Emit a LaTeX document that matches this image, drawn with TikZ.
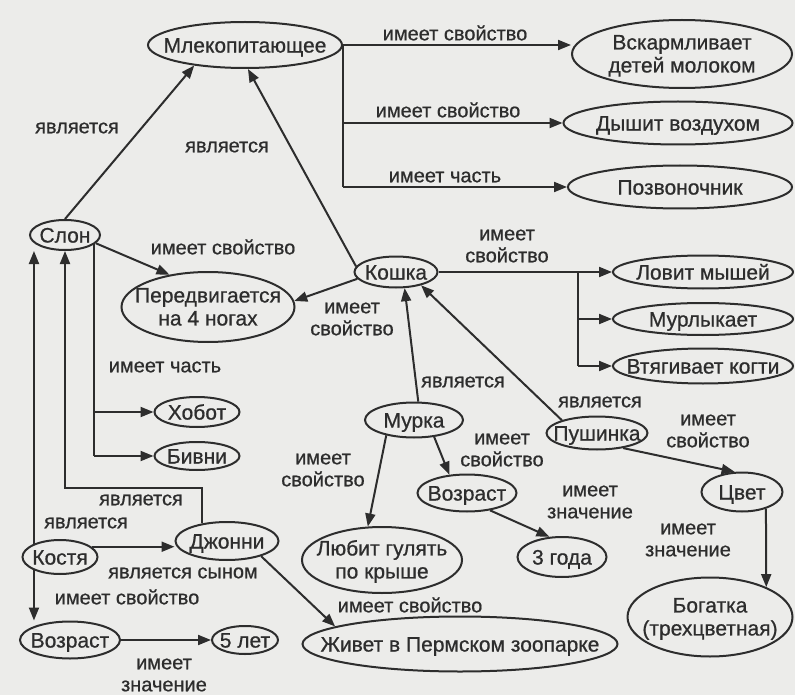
\documentclass[tikz,border=0pt]{standalone}
\usepackage{fontspec}
\setmainfont[FakeBold=0.7]{Liberation Sans}
\usetikzlibrary{shapes.geometric,arrows.meta}
\definecolor{bg}{RGB}{236,236,234}
\definecolor{ink}{RGB}{45,45,45}
\newcommand\one[1]{\makebox[0pt]{\raisebox{-0.36em}[0pt][0pt]{#1}}}
\newcommand\two[2]{\makebox[0pt]{\raisebox{-0.36em}[0pt][0pt]{\begin{tabular}[c]{@{}c@{}}#1\\#2\end{tabular}}}}
\tikzset{
 ell/.style={draw=ink, line width=2pt, ellipse, inner sep=0pt, text=ink, font=\fontsize{21}{23}\selectfont},
 lbl/.style={text=ink, font=\fontsize{20}{22}\selectfont, align=center, inner sep=0pt},
 con/.style={draw=ink, line width=2pt},
 arr/.style={con, -{Triangle[length=13pt,width=10pt]}},
}
\begin{document}
\begin{tikzpicture}[x=1pt,y=-1pt]
\path[fill=bg] (0,0) rectangle (795,695);
\useasboundingbox (0,0) rectangle (795,695);
% nodes
\node[ell, minimum width=194pt, minimum height=46pt] (mlek) at (245,45) {\one{Млекопитающее}};
\node[ell, minimum width=220pt, minimum height=68pt] (vskarm) at (682,54) {\two{Вскармливает}{детей молоком}};
\node[ell, minimum width=229pt, minimum height=43pt] (dyshit) at (678,123) {\one{Дышит воздухом}};
\node[ell, minimum width=224pt, minimum height=43pt] (pozv) at (680,187) {\one{Позвоночник}};
\node[ell, minimum width=70pt, minimum height=30pt] (slon) at (65,235) {\one{Слон}};
\node[ell, minimum width=173pt, minimum height=70pt] (pered) at (208,307) {\two{Передвигается}{на 4 ногах}};
\node[ell, minimum width=83pt, minimum height=31pt] (koshka) at (396,272) {\one{Кошка}};
\node[ell, minimum width=180pt, minimum height=33pt] (lovit) at (703,272) {\one{Ловит мышей}};
\node[ell, minimum width=180pt, minimum height=32pt] (murl) at (703,319) {\one{Мурлыкает}};
\node[ell, minimum width=180pt, minimum height=35pt] (vtyag) at (703,366) {\one{Втягивает когти}};
\node[ell, minimum width=85pt, minimum height=30pt] (hobot) at (197,412) {\one{Хобот}};
\node[ell, minimum width=85pt, minimum height=28pt] (bivni) at (197,456) {\one{Бивни}};
\node[ell, minimum width=98pt, minimum height=35pt] (murka) at (414,420) {\one{Мурка}};
\node[ell, minimum width=101pt, minimum height=33pt] (push) at (597,433) {\one{Пушинка}};
\node[ell, minimum width=81pt, minimum height=39pt] (cvet) at (742,492) {\one{Цвет}};
\node[ell, minimum width=165pt, minimum height=79pt] (bogat) at (710,617) {\two{Богатка}{(трехцветная)}};
\node[ell, minimum width=99pt, minimum height=37pt] (voz2) at (467,493) {\one{Возраст}};
\node[ell, minimum width=89pt, minimum height=40pt] (tri) at (562,557) {\one{3 года}};
\node[ell, minimum width=160pt, minimum height=66pt] (lyubit) at (382,560) {\two{Любит гулять}{по крыше}};
\node[ell, minimum width=315pt, minimum height=55pt] (zhivet) at (460,644) {\one{Живет в Пермском зоопарке}};
\node[ell, minimum width=103pt, minimum height=38pt] (dzh) at (227,541) {\one{Джонни}};
\node[ell, minimum width=75pt, minimum height=34pt] (kostya) at (60,557) {\one{Костя}};
\node[ell, minimum width=100pt, minimum height=37pt] (voz1) at (70,640) {\one{Возраст}};
\node[ell, minimum width=66pt, minimum height=28pt] (pyat) at (245,640) {\one{5 лет}};
% connectors
\draw[arr] (slon.north) -- (mlek.202.6);
\draw[arr] (koshka.172) -- (mlek.277);
\draw[arr] (mlek.east) -- (mlek.east -| vskarm.west);
\draw[con] (mlek.east) -- (mlek.east |- pozv.west);
\draw[arr] (mlek.east |- dyshit.west) -- (dyshit.west);
\draw[arr] (mlek.east |- pozv.west) -- (pozv.west);
\draw[arr] (slon.-15) -- (pered.140);
\draw[arr] (koshka.190) -- (pered.4);
\coordinate (kj) at (578,272);
\draw[arr] (koshka.east) -- (lovit.west);
\draw[con] (kj) -- (kj |- vtyag.west);
\draw[arr] (kj |- murl.west) -- (murl.west);
\draw[arr] (kj |- vtyag.west) -- (vtyag.west);
\draw[con] (slon.-18) -- (slon.-18 |- bivni.west);
\draw[arr] (slon.-18 |- hobot.west) -- (hobot.west);
\draw[arr] (slon.-18 |- bivni.west) -- (bivni.west);
\draw[arr] (kostya.153) -- (kostya.153 |- slon.south);
\draw[arr] (kostya.207) -- (kostya.207 |- voz1.north);
\coordinate (dj) at (65,488);
\draw[arr] (dzh.145) |- (dj) -- (slon.south);
\draw[arr] (kostya.18) -- (kostya.18 -| dzh.west);
\draw[arr] (voz1.east) -- (pyat.west);
\draw[arr] (dzh.-24) -- (zhivet.172);
\draw[arr] (murka.77) -- (koshka.-62);
\draw[arr] (push.160) -- (koshka.-28);
\draw[arr] (push.-30) -- (cvet.110);
\draw[arr] (cvet.-35) -- (bogat.28);
\draw[arr] (murka.-40) -- (voz2.134);
\draw[arr] (voz2.-37) -- (tri.122);
\draw[arr] (murka.209.7) -- (lyubit.113.3);
% labels
\node[lbl] (l1) at (77,128) {является};
\node[lbl] (l2) at (227,147) {является};
\node[lbl] (l3) at (455,33) {имеет свойство};
\node[lbl] (l4) at (448,110) {имеет свойство};
\node[lbl] (l5) at (445,177) {имеет часть};
\node[lbl] (l6) at (223,247) {имеет свойство};
\node[lbl] (l7) at (352,319) {имеет\\свойство};
\node[lbl] (l8) at (507,246) {имеет\\свойство};
\node[lbl] (l9) at (165,367) {имеет часть};
\node[lbl] (l10) at (463,382) {является};
\node[lbl] (l11) at (600,402) {является};
\node[lbl] (l12) at (708,431) {имеет\\свойство};
\node[lbl] (l13) at (323,470) {имеет\\свойство};
\node[lbl] (l14) at (502,450) {имеет\\свойство};
\node[lbl] (l15) at (590,502) {имеет\\значение};
\node[lbl] (l16) at (688,540) {имеет\\значение};
\node[lbl] (l17) at (141,500) {является};
\node[lbl] (l18) at (86,523) {является};
\node[lbl] (l19) at (183,573) {является сыном};
\node[lbl] (l20) at (127,597) {имеет свойство};
\node[lbl] (l21) at (164,675) {имеет\\значение};
\node[lbl] (l22) at (410,605) {имеет свойство};
\end{tikzpicture}
\end{document}
